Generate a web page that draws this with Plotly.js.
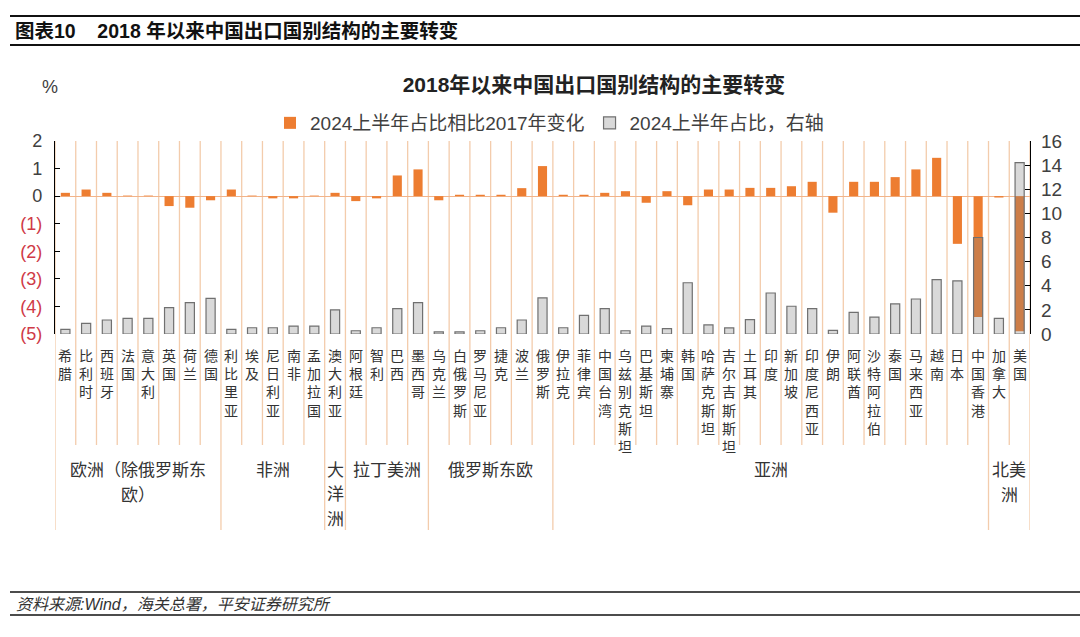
<!DOCTYPE html>
<html><head><meta charset="utf-8">
<script src="https://cdn.plot.ly/plotly-3.0.1.min.js"></script>
<style>html,body{margin:0;padding:0;background:#fff}#chart{width:1080px;height:637px}</style>
</head><body><div id="chart"></div>
<script>
const countries = ['希腊','比利时','西班牙','法国','意大利','英国','荷兰','德国',
  '利比里亚','埃及','尼日利亚','南非','孟加拉国',
  '澳大利亚',
  '阿根廷','智利','巴西','墨西哥',
  '乌克兰','白俄罗斯','罗马尼亚','捷克','波兰','俄罗斯',
  '伊拉克','菲律宾','中国台湾','乌兹别克斯坦','巴基斯坦','柬埔寨','韩国','哈萨克斯坦','吉尔吉斯斯坦','土耳其','印度','新加坡','印度尼西亚','伊朗','阿联酋','沙特阿拉伯','泰国','马来西亚','越南','日本','中国香港',
  '加拿大','美国'];
const changeVs2017 = [0.12,0.24,0.12,0.02,0.02,-0.36,-0.42,-0.15,
  0.24,0.02,-0.08,-0.08,0.02,
  0.12,
  -0.18,-0.08,0.75,0.97,
  -0.15,0.05,0.05,0.05,0.29,1.09,
  0.05,0.05,0.12,0.18,-0.24,0.18,-0.33,0.24,0.24,0.30,0.30,0.36,0.52,-0.60,0.52,0.52,0.69,0.97,1.39,-1.73,-4.38,
  -0.05,-4.90];
const share2024H1 = [0.39,0.88,1.16,1.30,1.30,2.18,2.60,2.96,
  0.39,0.52,0.52,0.66,0.66,
  2.00,
  0.27,0.52,2.10,2.60,
  0.17,0.17,0.27,0.52,1.16,3.00,
  0.52,1.55,2.10,0.27,0.66,0.44,4.25,0.75,0.50,1.20,3.40,2.30,2.10,0.30,1.80,1.40,2.50,2.90,4.50,4.40,8.00,
  1.30,14.20];
const groupSizes = [8,5,1,4,6,21,2];
const groupLabelLines = [['欧洲（除俄罗斯东','欧）'],['非洲'],['大','洋','洲'],['拉丁美洲'],['俄罗斯东欧'],['亚洲'],['北美','洲']];
const leftTickVals = [2,1,0,-1,-2,-3,-4,-5];
const leftTickText = ['2','1','0','(1)','(2)','(3)','(4)','(5)'];
const rightTickVals = [0,2,4,6,8,10,12,14,16];
const seriesNames = ['2024上半年占比相比2017年变化','2024上半年占比，右轴'];

// geometry helpers (pixel -> paper)
const L=55, R=1030, T=141, B=334;
const px = v => (v-L)/(R-L);
const py = v => (B-v)/(B-T);
const FONT = 'Liberation Sans, Arial, Noto Sans CJK SC, sans-serif';
const CJK = 'Noto Sans CJK SC, Liberation Sans, sans-serif';
const RED = '#cf3a47';

const traces = [
  {type:'bar', x:countries, y:changeVs2017, name:seriesNames[0], yaxis:'y', width:0.44,
   marker:{color:'#ED7D31', line:{width:0}}},
  {type:'bar', x:countries, y:share2024H1, name:seriesNames[1], yaxis:'y2', width:0.44,
   marker:{color:'rgba(128,128,128,0.3)', line:{color:'#707070', width:1.2}}}
];

const shapes = [];
const groupBounds = new Set([0]);
let acc = 0; groupSizes.forEach(s=>{acc+=s; groupBounds.add(acc);});
for (let b=0; b<=countries.length; b++){
  const long = groupBounds.has(b);
  shapes.push({type:'line', layer:'below', xref:'x', yref:'paper', x0:b-0.5, x1:b-0.5,
    y0:1, y1: long ? py(530) : py(445), line:{color:'#f3ccac', width:1.3}});
}
// header / footer rules
[[16,2],[45,2],[592,1.6],[615,1.6]].forEach(([y,w])=>{
  shapes.push({type:'line', xref:'paper', yref:'paper', x0:px(10), x1:px(1080), y0:py(y), y1:py(y),
    line:{color:'#111', width:w}});
});

const annotations = [];
countries.forEach((c,i)=>{
  annotations.push({x:i, xref:'x', y:py(344), yref:'paper', text:[...c].join('<br>'), showarrow:false,
    xanchor:'center', yanchor:'top', align:'center', borderpad:0,
    font:{family:CJK, size:14, color:'#333'}});
});
let start = 0;
groupSizes.forEach((s,g)=>{
  const center = start + s/2 - 0.5;
  const lines = groupLabelLines[g];
  const step = lines.length>2 ? 24.5 : 25;
  lines.forEach((ln,k)=>{
    annotations.push({x:center, xref:'x', y:py(468+step*k), yref:'paper', text:ln, showarrow:false,
      xanchor:'center', yanchor:'middle', borderpad:0, font:{family:CJK, size:17, color:'#333'}});
  });
  start += s;
});
annotations.push({x:px(50), xref:'paper', y:py(87), yref:'paper', text:'%', showarrow:false,
  xanchor:'center', yanchor:'middle', font:{family:FONT, size:18, color:'#404040'}});
annotations.push({x:px(13), xref:'paper', y:py(31), yref:'paper', text:'<b>图表10    2018 年以来中国出口国别结构的主要转变</b>',
  showarrow:false, xanchor:'left', yanchor:'middle', font:{family:FONT, size:19.5, color:'#111'}});
annotations.push({x:px(14), xref:'paper', y:py(604), yref:'paper', text:'<i>资料来源:Wind，海关总署，平安证券研究所</i>',
  showarrow:false, xanchor:'left', yanchor:'middle', font:{family:FONT, size:16, color:'#333'}});

const layout = {
  width:1080, height:637, margin:{l:L, r:1080-R, t:T, b:637-B, pad:0},
  paper_bgcolor:'#fff', plot_bgcolor:'rgba(0,0,0,0)',
  barmode:'overlay', bargap:0.56,
  title:{text:'<b>2018年以来中国出口国别结构的主要转变</b>', x:594/1080, xanchor:'center', xref:'container',
    y:1-85/637, yanchor:'middle', yref:'container', font:{family:FONT, size:21, color:'#222'}},
  showlegend:true,
  legend:{orientation:'h', x:px(270), xanchor:'left', y:py(123), yanchor:'middle',
    font:{family:FONT, size:19, color:'#404040'}, itemwidth:30, traceorder:'normal', bgcolor:'rgba(0,0,0,0)'},
  xaxis:{type:'category', range:[-0.5, countries.length-0.5], showticklabels:false, showgrid:false,
    showline:false, ticks:'', zeroline:false, fixedrange:true},
  yaxis:{range:[-5,2], tickvals:leftTickVals,
    ticktext:leftTickText.map((t,i)=> leftTickVals[i]<0 ? `<span style="color:${RED}">${t}</span>` : t),
    showline:true, linecolor:'#000', linewidth:1.2, ticks:'inside', ticklen:5, tickcolor:'#000',
    showgrid:false, zeroline:true, zerolinecolor:'#f2b48a', zerolinewidth:1.2,
    tickfont:{family:FONT, size:18, color:'#404040'}, ticklabelstandoff:8},
  yaxis2:{range:[0,16], tickvals:rightTickVals, overlaying:'y', side:'right',
    showline:true, linecolor:'#000', linewidth:1.2, ticks:'inside', ticklen:5, tickcolor:'#000',
    showgrid:false, zeroline:false, tickfont:{family:FONT, size:19, color:'#404040'}, ticklabelstandoff:6},
  shapes, annotations
};
Plotly.newPlot('chart', traces, layout, {staticPlot:true, displayModeBar:false});
</script></body></html>
